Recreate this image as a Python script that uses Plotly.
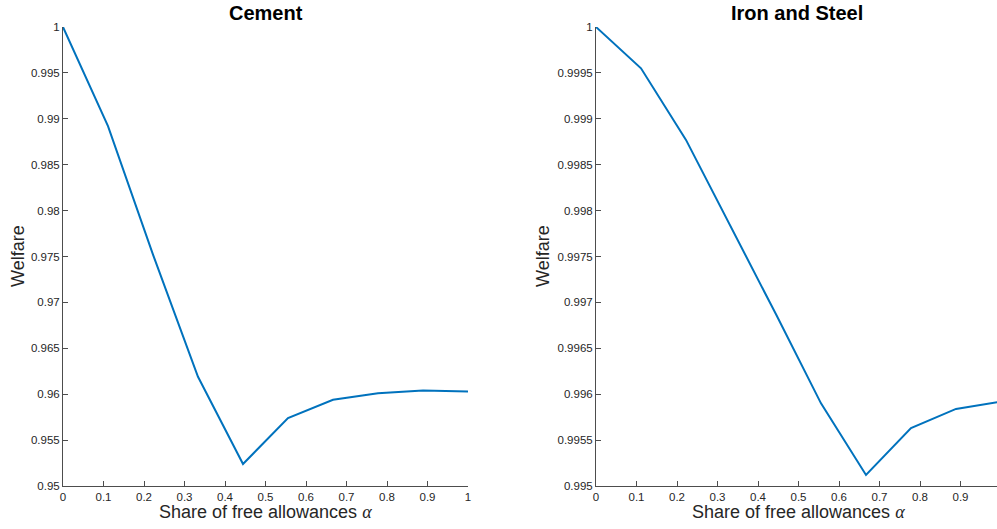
import plotly.graph_objects as go

# Data
alpha = [0, 1/9, 2/9, 3/9, 4/9, 5/9, 6/9, 7/9, 8/9, 1.0]
cement = [1.0, 0.9892, 0.9752, 0.9619, 0.9524, 0.9574, 0.9594, 0.9601, 0.9604, 0.9603]
iron_steel = [1.0, 0.99955, 0.99877, 0.99782, 0.99687, 0.99590, 0.99512, 0.99563, 0.99584, 0.99592]

x_ticks = [0, 0.1, 0.2, 0.3, 0.4, 0.5, 0.6, 0.7, 0.8, 0.9, 1.0]
x_ticktext = ["0", "0.1", "0.2", "0.3", "0.4", "0.5", "0.6", "0.7", "0.8", "0.9", "1"]
y1_ticks = [0.95, 0.955, 0.96, 0.965, 0.97, 0.975, 0.98, 0.985, 0.99, 0.995, 1.0]
y1_ticktext = ["0.95", "0.955", "0.96", "0.965", "0.97", "0.975", "0.98", "0.985", "0.99", "0.995", "1"]
y2_ticks = [0.995, 0.9955, 0.996, 0.9965, 0.997, 0.9975, 0.998, 0.9985, 0.999, 0.9995, 1.0]
y2_ticktext = ["0.995", "0.9955", "0.996", "0.9965", "0.997", "0.9975", "0.998", "0.9985", "0.999", "0.9995", "1"]

W, H = 997, 529
line_color = "#0072BD"
axis_color = "#4d4d4d"
tick_font = dict(family="Liberation Sans, Arial, Helvetica", size=11.5, color="#262626")
label_font = dict(family="Liberation Sans, Arial, Helvetica", size=18, color="#262626")
title_font = dict(family="Liberation Sans, Arial", size=20, color="black")

fig = go.Figure()
fig.add_trace(go.Scatter(x=alpha, y=cement, mode="lines", line=dict(color=line_color, width=2),
                         xaxis="x", yaxis="y", showlegend=False, hoverinfo="skip"))
fig.add_trace(go.Scatter(x=alpha, y=iron_steel, mode="lines", line=dict(color=line_color, width=2),
                         xaxis="x2", yaxis="y2", showlegend=False, hoverinfo="skip"))

ydom = [(H - 486) / H, (H - 27) / H]
x1dom = [63 / W, 468 / W]
x2dom = [596 / W, 1.0]
x2max = (W - 596) / 405.0

common_axis = dict(showgrid=False, zeroline=False, showline=True, linecolor=axis_color, linewidth=1,
                   ticks="inside", ticklen=5, tickcolor=axis_color, tickfont=tick_font, mirror=False,
                   automargin=False)

fig.update_layout(
    width=W, height=H,
    paper_bgcolor="white", plot_bgcolor="white",
    margin=dict(l=0, r=0, t=0, b=0, pad=0),
    xaxis=dict(domain=x1dom, range=[0, 1], tickvals=x_ticks, ticktext=x_ticktext, anchor="y", **common_axis),
    yaxis=dict(domain=ydom, range=[0.95, 1.0], tickvals=y1_ticks, ticktext=y1_ticktext, anchor="x", **common_axis),
    xaxis2=dict(domain=x2dom, range=[0, x2max], tickvals=x_ticks, ticktext=x_ticktext, anchor="y2", **common_axis),
    yaxis2=dict(domain=ydom, range=[0.995, 1.0], tickvals=y2_ticks, ticktext=y2_ticktext, anchor="x2", **common_axis),
)

alpha_txt = "Share of free allowances <span style=\"font-family:'Liberation Serif','DejaVu Serif',serif\"><i>α</i></span>"
annotations = [
    dict(text="<b>Cement</b>", x=265.5 / W, y=1 - 13 / H, xref="paper", yref="paper", showarrow=False,
         font=title_font, xanchor="center", yanchor="middle"),
    dict(text="<b>Iron and Steel</b>", x=797 / W, y=1 - 13 / H, xref="paper", yref="paper", showarrow=False,
         font=title_font, xanchor="center", yanchor="middle"),
    dict(text=alpha_txt, x=265.5 / W, y=1 - 512 / H, xref="paper", yref="paper", showarrow=False,
         font=label_font, xanchor="center", yanchor="middle"),
    dict(text=alpha_txt, x=798 / W, y=1 - 512 / H, xref="paper", yref="paper", showarrow=False,
         font=label_font, xanchor="center", yanchor="middle"),
    dict(text="Welfare", x=18 / W, y=1 - 256 / H, xref="paper", yref="paper", showarrow=False,
         font=label_font, textangle=-90, xanchor="center", yanchor="middle"),
    dict(text="Welfare", x=543 / W, y=1 - 256 / H, xref="paper", yref="paper", showarrow=False,
         font=label_font, textangle=-90, xanchor="center", yanchor="middle"),
]
fig.update_layout(annotations=annotations)

fig.write_html("out.html", config={"displayModeBar": False, "staticPlot": True},
               post_script="document.body.style.margin='0';document.body.style.overflow='hidden';")
